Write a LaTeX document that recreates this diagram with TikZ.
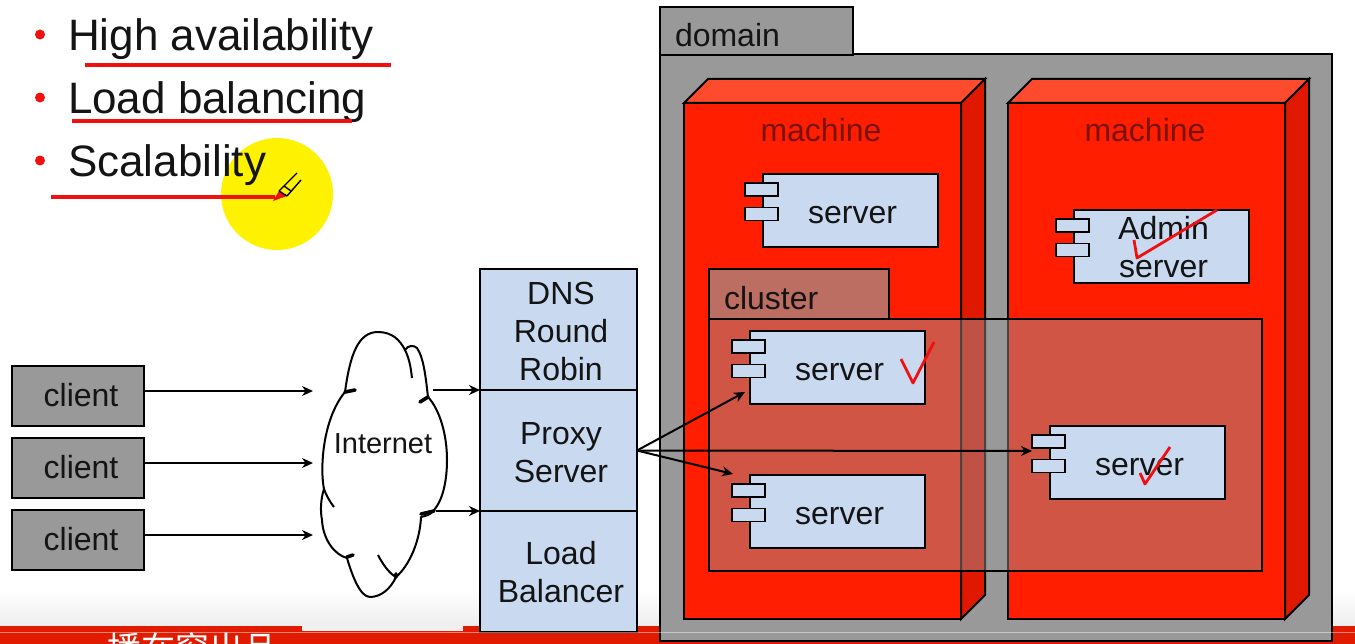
\documentclass[tikz,border=0pt]{standalone}
\usepackage{fontspec}
\setmainfont{Liberation Sans}
\newfontfamily\cjkfont{Noto Sans CJK SC}
\usetikzlibrary{positioning,arrows.meta}
\definecolor{boxblue}{HTML}{C8D9F0}
\definecolor{boxgray}{HTML}{999999}
\definecolor{bandred}{HTML}{E01B00}
\definecolor{frontred}{HTML}{FF1E00}
\definecolor{topred}{HTML}{FF4B2D}
\definecolor{sidered}{HTML}{E01800}
\definecolor{labelred}{HTML}{7A1208}
\definecolor{penred}{HTML}{F01010}
\definecolor{inkblack}{HTML}{141414}

\begin{document}
\begin{tikzpicture}[x=1pt,y=-1pt,>={Stealth[length=11pt,width=10pt]},line width=2pt,
    every node/.style={inner sep=0pt,outer sep=0pt,text=inkblack,font=\fontsize{32}{38}\selectfont},
    bullet text/.style={anchor=base west,font=\fontsize{44}{44}\selectfont},
    client box/.style={draw,fill=boxgray,minimum width=132,minimum height=60},
    stack box/.style={draw,fill=boxblue,minimum width=157,minimum height=121},
    server box/.style={draw,fill=boxblue,minimum width=175,minimum height=73,anchor=north west},
    lug box/.style={draw,fill=boxblue,line width=1.7pt,minimum width=33,minimum height=13},
    box text/.style={align=center,xshift=#1},
    mark line/.style={draw=penred,line width=2.8pt,line join=round},
    under line/.style={draw=penred,line width=3.2pt}]

    \useasboundingbox (0,0) rectangle (1355,644);

    % bottom band
    \shade[top color=white,bottom color=black!7] (0,590) rectangle (1355,626);
    \fill[bandred] (0,626) rectangle (1355,644);
    \fill[black!6] (302,626) rectangle (463,631);
    \node[text=white,font=\cjkfont\fontsize{34}{34}\selectfont] (bandtext) at (192,649) {播在窗出品};

    % bullets
    \fill[yellow] (277,194) circle (56);
    \foreach \y/\name/\txt in {51/high/High availability,114/load/Load balancing,177/scale/Scalability}{
        \node[bullet text] (\name) at (68,\y) {\txt};
        \fill[penred] (40,\y-16.5) circle (5);
    }
    \draw[under line] (85,65) -- (391,65);
    \draw[under line] (72,121) -- (352,121);
    \draw[under line] (51,197) -- (275,197);

    % pen
    \fill[penred] (273,201) -- (279,191) -- (287,196) -- cycle;
    \draw[line width=1.4pt] (279,191) -- (297,173) (287,196) -- (301,180) (279,191) -- (287,196) (284,186) -- (291,191);

    % domain
    \node[draw,fill=boxgray,minimum width=672,minimum height=587,anchor=north west] (domain) at (660,54) {};
    \node[draw,fill=boxgray,minimum width=193,minimum height=48,anchor=north west] (domaintab) at (660,7) {};
    \node[anchor=base west] (domaintxt) at (675,47) {domain};

    % machines
    \foreach \m/\x in {1/684,2/1008}{
        \filldraw[fill=topred] (\x,103) -- ++(24,-24) -- ++(277,0) -- ++(-24,24) -- cycle;
        \filldraw[fill=sidered] (\x+277,103) -- ++(24,-24) -- ++(0,516) -- ++(-24,24) -- cycle;
        \node[draw,fill=frontred,minimum width=277,minimum height=516,anchor=north west] (machine\m) at (\x,103) {};
        \node[text=labelred,anchor=base] (machinetxt\m) at (\x+137,142) {machine};
    }

    % cluster
    \filldraw[fill=boxgray,fill opacity=0.65] (709,269) rectangle (889,319);
    \filldraw[fill=boxgray,fill opacity=0.45] (709,319) rectangle (1262,571);
    \node[anchor=base west] (clustertxt) at (724,310) {cluster};

    % servers
    \foreach \name/\x/\y/\drop/\txt in {srvtop/763/174/5/server,srvadmin/1074/210/1/{Admin\\server},srvone/750/331/5/server,srvtwo/750/475/5/server,srvthree/1050/426/5/server}{
        \node[server box] (\name) at (\x,\y) {};
        \node[lug box] (\name a) at (\x-1.5,\y+15.5) {};
        \node[lug box] (\name b) at (\x-1.5,\y+40) {};
        \node[box text=2pt,yshift=-\drop pt] (\name txt) at (\name) {\txt};
    }

    % ticks
    \draw[mark line] (901,359) -- (913,383) -- (934,342);
    \draw[mark line] (1134,240) -- (1137,258) -- (1217,210);
    \draw[mark line] (1140,473) -- (1145,484) -- (1170,447);

    % clients and the stack
    \node[client box] (client1) at (78,396) {};
    \node[client box] (client2) [below=12pt of client1] {};
    \node[client box] (client3) [below=12pt of client2] {};
    \foreach \i in {1,2,3}{
        \node[box text=3pt,yshift=1pt] (clienttxt\i) at (client\i) {client};
    }

    \node[stack box] (dns) at (558.5,329.5) {};
    \node[stack box] (proxy) [below=0pt of dns] {};
    \node[stack box] (balancer) [below=0pt of proxy] {};
    \node[box text=2.5pt,yshift=-1.5pt] (dnstxt) at (dns) {DNS\\Round\\Robin};
    \node[box text=2.5pt,yshift=-2pt] (proxytxt) at (proxy) {Proxy\\Server};
    \node[box text=2.5pt,yshift=-0.5pt] (balancertxt) at (balancer) {Load\\Balancer};

    % internet
    \filldraw[fill=white,line join=round]
        (345,392) .. controls (350,355) and (358,332) .. (378,332)
        .. controls (392,332) and (400,340) .. (405,350)
        .. controls (408,345) and (414,345) .. (417,348)
        .. controls (424,358) and (426,380) .. (428,397)
        .. controls (440,410) and (447,435) .. (447,460)
        .. controls (447,480) and (443,500) .. (434,510)
        .. controls (431,515) and (425,516) .. (421,517)
        .. controls (420,540) and (410,565) .. (396,577)
        .. controls (390,590) and (380,597) .. (370,597)
        .. controls (360,597) and (352,575) .. (347,558)
        .. controls (335,555) and (323,540) .. (322,520)
        .. controls (320,510) and (321,498) .. (324,489)
        .. controls (320,470) and (322,420) .. (345,392) -- cycle;
    \draw[line width=3.6pt,line cap=round] (345,392) -- (355,390) (428,397) -- (420,402) (434,511) -- (421,514) (347,557) -- (353,555) (396,577) -- (396,574);
    \draw (405,350) .. controls (410,360) and (411,370) .. (412,378);
    \draw (378,555) .. controls (383,565) and (390,574) .. (396,577);
    \draw (324,489) .. controls (326,495) and (330,502) .. (334,507);
    \node[font=\fontsize{29}{29}\selectfont] (internet) at (383,444) {Internet};

    % connectors
    \coordinate (in1) at (313,391);
    \coordinate (in2) at (313,463);
    \coordinate (in3) at (313,535);
    \coordinate (out1) at (433,390);
    \coordinate (out2) at (436,511);
    \coordinate (to1) at (745,392);
    \coordinate (to2) at (733,474);
    \coordinate (to3) at (1032,451);
    \coordinate (from) at (proxy.east);
    \foreach \i in {1,2,3}{
        \draw[->] (client\i.east |- in\i) -- (in\i);
    }
    \draw[->] (out1) -- (dns.south west);
    \draw[->] (out2) -- (proxy.south west);
    \draw[->] (from) -- (to1);
    \draw[->] (from) -- (to2);
    \draw[->] (from) -- (to3);

    % band highlight
    \draw[white,opacity=0.45,line width=1pt] (0,632) -- (1355,632);
\end{tikzpicture}
\end{document}
